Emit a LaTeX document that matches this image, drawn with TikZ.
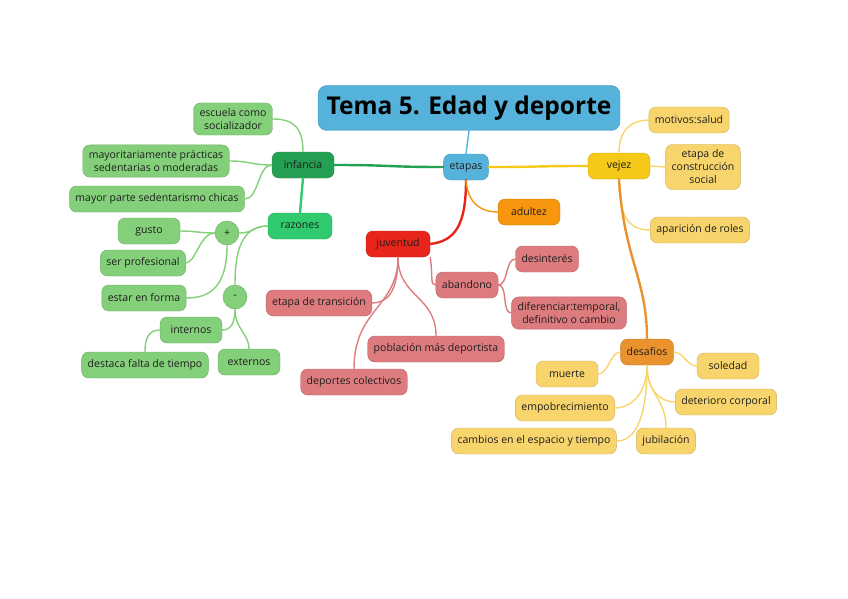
\documentclass[tikz,border=0pt]{standalone}
\usepackage{fontspec}
\setmainfont{Open Sans}
\usepackage{tikz}
\usetikzlibrary{math}

\definecolor{hubblue}{HTML}{55B3DB}
\definecolor{kidgreen}{HTML}{24A052}
\definecolor{whygreen}{HTML}{2FCB6E}
\definecolor{leafgreen}{HTML}{84D07A}
\definecolor{youthred}{HTML}{E8251B}
\definecolor{leafpink}{HTML}{DE7B7F}
\definecolor{adultorange}{HTML}{F7960F}
\definecolor{oldyellow}{HTML}{F4C918}
\definecolor{leafyellow}{HTML}{F8D56C}
\definecolor{challorange}{HTML}{E9922E}
\definecolor{inkgrey}{HTML}{1E1E1E}

\tikzset{
  idea/.style={rectangle, rounded corners=7pt, fill=#1, draw=#1!82!black, line width=0.4pt, minimum height=26pt, inner xsep=6pt, inner ysep=5.5pt, align=center, text=inkgrey, font=\fontsize{10.5}{13}\selectfont},
  sign/.style={circle, fill=leafgreen, draw=leafgreen!82!black, line width=0.4pt, minimum size=24pt, inner sep=0pt, text=inkgrey, font=\fontsize{10.5}{13}\selectfont},
  branch/.style={draw=#1, line width=2.4pt, line cap=round},
  twig/.style={draw=#1, line width=1.4pt, line cap=round}
}

\begin{document}
\begin{tikzpicture}[x=1pt, y=-1pt]
    \useasboundingbox (0,0) rectangle (848,599);
    \tikzmath{\xHub = 466; \yHub = 167; \xKid = 303; \xOld = 619; \yYouth = 244;}

    \node[rectangle, rounded corners=9pt, fill=hubblue, draw=hubblue!82!black, line width=0.4pt, minimum width=302pt, minimum height=45pt, text=black, font=\fontsize{24.5}{28}\selectfont\bfseries](tema) at (469,108) {Tema 5. Edad y deporte};
    \node[idea=hubblue](etapas) at (\xHub,\yHub) {etapas};

    \node[idea=kidgreen, minimum width=62pt](infancia) at (\xKid,165) {infancia};
    \node[idea=leafgreen](escuela) at (233,119) {escuela como\\ socializador};
    \node[idea=leafgreen](mayoritariamente) at (156,161) {mayoritariamente prácticas\\ sedentarias o moderadas};
    \node[idea=leafgreen](sedentarismo) at (157,199) {mayor parte sedentarismo chicas};
    \node[idea=whygreen, minimum width=64pt](razones) at (300,226) {razones};
    \node[sign](mas) at (227,233) {+};
    \node[sign](menos) at (235,297) {-};
    \node[idea=leafgreen, minimum width=62pt](gusto) at (149,231) {gusto};
    \node[idea=leafgreen](profesional) at (143,263) {ser profesional};
    \node[idea=leafgreen](forma) at (144,298) {estar en forma};
    \node[idea=leafgreen, minimum width=62pt](internos) at (191,330) {internos};
    \node[idea=leafgreen](tiempo) at (145,365) {destaca falta de tiempo};
    \node[idea=leafgreen, minimum width=62pt](externos) at (249,362) {externos};

    \node[idea=adultorange, minimum width=62pt](adultez) at (529,212) {adultez};

    \node[idea=youthred, minimum width=64pt](juventud) at (398,\yYouth) {juventud};
    \node[idea=leafpink](transicion) at (319,303) {etapa de transición};
    \node[idea=leafpink](poblacion) at (436,349) {población más deportista};
    \node[idea=leafpink](colectivos) at (354,382) {deportes colectivos};
    \node[idea=leafpink](abandono) at (467,285) {abandono};
    \node[idea=leafpink](desinteres) at (547,259) {desinterés};
    \node[idea=leafpink](diferenciar) at (569,313) {diferenciar:temporal,\\ definitivo o cambio};

    \node[idea=oldyellow, minimum width=62pt](vejez) at (\xOld,166) {vejez};
    \node[idea=leafyellow](motivos) at (689,120) {motivos:salud};
    \node[idea=leafyellow](construccion) at (703,167) {etapa de\\ construcción\\ social};
    \node[idea=leafyellow](roles) at (700,230) {aparición de roles};
    \node[idea=challorange](desafios) at (647,352) {desafios};
    \node[idea=leafyellow, minimum width=62pt](muerte) at (567,374) {muerte};
    \node[idea=leafyellow, minimum width=62pt](soledad) at (728,366) {soledad};
    \node[idea=leafyellow](empobrecimiento) at (565,408) {empobrecimiento};
    \node[idea=leafyellow](deterioro) at (726,402) {deterioro corporal};
    \node[idea=leafyellow](cambios) at (534,441) {cambios en el espacio y tiempo};
    \node[idea=leafyellow](jubilacion) at (666,441) {jubilación};

    \draw[twig=hubblue] (tema.south) -- (etapas.north);
    \draw[branch=kidgreen] (etapas.west) .. controls +(-60,0) and +(60,0) .. (infancia.east);
    \draw[branch=oldyellow] (etapas.east) .. controls +(60,0) and +(-60,0) .. (vejez.west);
    \draw[branch=youthred] (etapas.south) .. controls +(0,45) and +(25,-3) .. (juventud.east);
    \draw[twig=adultorange] (etapas.south) .. controls +(2,25) and +(-15,0) .. (adultez.west);

    \draw[twig=leafgreen] (infancia.north) .. controls +(0,-25) and +(20,0) .. (escuela.east);
    \draw[twig=leafgreen] (infancia.west) .. controls +(-20,0) and +(20,0) .. (mayoritariamente.east);
    \draw[twig=leafgreen] (infancia.west) .. controls +(-14,0) and +(14,0) .. (sedentarismo.east);
    \draw[branch=whygreen] (infancia.south) -- (razones.north);
    \draw[twig=leafgreen] (razones.west) .. controls +(-15,0) and +(15,0) .. (mas.east);
    \draw[twig=leafgreen] (razones.west) .. controls +(-28,0) and +(0,-30) .. (menos.north);
    \draw[twig=leafgreen] (mas.west) .. controls +(-15,0) and +(15,0) .. (gusto.east);
    \draw[twig=leafgreen] (mas.west) .. controls +(-15,0) and +(10,0) .. (profesional.east);
    \draw[twig=leafgreen] (mas.south) .. controls +(0,40) and +(25,0) .. (forma.east);
    \draw[twig=leafgreen] (menos.south) .. controls +(0,15) and +(8,0) .. (internos.east);
    \draw[twig=leafgreen] (menos.south) .. controls +(0,20) and +(0,-15) .. (externos.north);
    \draw[twig=leafgreen] (internos.west) .. controls +(-12,0) and +(0,-12) .. (tiempo.north);

    \draw[twig=leafpink] (juventud.south) .. controls +(0,35) and +(15,0) .. (transicion.east);
    \draw[twig=leafpink] (juventud.south) .. controls +(0,40) and +(0,-40) .. (poblacion.north);
    \draw[twig=leafpink] (juventud.south) .. controls +(0,50) and +(0,-60) .. (colectivos.north);
    \draw[twig=leafpink] (juventud.south east) .. controls +(3,20) and +(-6,0) .. (abandono.west);
    \draw[twig=leafpink] (abandono.east) .. controls +(10,0) and +(-10,0) .. (desinteres.west);
    \draw[twig=leafpink] (abandono.east) .. controls +(10,0) and +(-10,0) .. (diferenciar.west);

    \draw[twig=leafyellow] (vejez.north) .. controls +(0,-25) and +(-15,0) .. (motivos.west);
    \draw[twig=leafyellow] (vejez.east) -- (construccion.west);
    \draw[twig=leafyellow] (vejez.south) .. controls +(0,40) and +(-20,0) .. (roles.west);
    \draw[branch=challorange] (vejez.south) .. controls +(5,80) and +(0,-60) .. (desafios.north);
    \draw[twig=leafyellow] (desafios.west) .. controls +(-10,0) and +(10,0) .. (muerte.east);
    \draw[twig=leafyellow] (desafios.east) .. controls +(10,0) and +(-10,0) .. (soledad.west);
    \draw[twig=leafyellow] (desafios.south) .. controls +(0,30) and +(15,0) .. (empobrecimiento.east);
    \draw[twig=leafyellow] (desafios.south) .. controls +(0,25) and +(-15,0) .. (deterioro.west);
    \draw[twig=leafyellow] (desafios.south) .. controls +(0,50) and +(20,0) .. (cambios.east);
    \draw[twig=leafyellow] (desafios.south) .. controls +(0,30) and +(0,-30) .. (jubilacion.north);
\end{tikzpicture}
\end{document}
